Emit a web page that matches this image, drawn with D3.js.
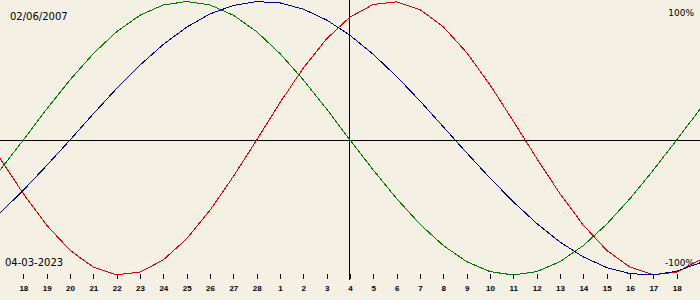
<!DOCTYPE html>
<html>
<head>
<meta charset="utf-8">
<script src="https://cdn.jsdelivr.net/npm/d3@7"></script>
<style>
  body { margin: 0; background: #f4f0e4; }
  svg { display: block; }
</style>
</head>
<body>
<svg width="700" height="300"></svg>
<script>
// day labels under the ticks (17 Feb .. 19 Mar 2023, centre = 4 Mar)
var tickLabels = ["18","19","20","21","22","23","24","25","26","27","28",
                  "1","2","3","4","5","6","7","8","9","10","11","12","13","14","15","16","17","18"];

// one value per day (-1 .. 1)
var physical = [-0.136,-0.398,-0.631,-0.817,-0.942,-0.998,-0.979,-0.888,-0.731,-0.520,-0.270,
                0,0.270,0.520,0.731,0.888,0.979,0.998,0.942,0.817,0.631,0.398,0.136,
                -0.136,-0.398,-0.631,-0.817,-0.942,-0.998,-0.979,-0.888];
var emotional = [-0.223,0,0.223,0.434,0.624,0.782,0.901,0.975,1,0.975,0.901,0.782,0.624,0.434,0.223,
                 0,-0.223,-0.434,-0.624,-0.782,-0.901,-0.975,-1,-0.975,-0.901,-0.782,-0.624,-0.434,-0.223,0,0.223];
var intellectual = [-0.541,-0.372,-0.189,0,0.189,0.372,0.541,0.690,0.815,0.910,0.972,0.999,0.990,0.945,0.866,
                    0.756,0.618,0.458,0.282,0.095,-0.095,-0.282,-0.458,-0.618,-0.756,-0.866,-0.945,-0.990,-0.999,-0.972,-0.910];

var birthDate = "02/06/2007",
    curDate = "04-03-2023";

var svg = d3.select("svg"),
    width = +svg.attr("width"),
    height = +svg.attr("height");

svg.append("rect").attr("width", width).attr("height", height).attr("fill", "#f4f0e4");

var x = d3.scaleLinear().domain([0, 30]).range([0, width]);
var y = d3.scaleLinear().domain([-1, 0, 1]).range([275, 140, 1.5]);

// centre lines
svg.append("line")
    .attr("x1", 0).attr("x2", width)
    .attr("y1", y(0) + 0.5).attr("y2", y(0) + 0.5)
    .attr("stroke", "#000").attr("shape-rendering", "crispEdges");
svg.append("line")
    .attr("x1", x(15) - 0.5).attr("x2", x(15) - 0.5)
    .attr("y1", 0).attr("y2", 280)
    .attr("stroke", "#000").attr("shape-rendering", "crispEdges");

// axis with day numbers
var axis = svg.append("g")
    .attr("transform", "translate(0,274)")
    .call(d3.axisBottom(x)
      .tickValues(d3.range(1, 30))
      .tickFormat(function(d) { return tickLabels[d - 1]; })
      .tickSize(5)
      .tickPadding(6));
axis.select(".domain").remove();
axis.selectAll("line").attr("stroke", "#000").attr("shape-rendering", "crispEdges");
axis.selectAll("text")
    .attr("fill", "#000")
    .attr("font-family", "Liberation Sans, sans-serif")
    .attr("font-size", 8)
    .attr("font-weight", "bold");

// curves
var line = d3.line()
    .x(function(d, i) { return x(i); })
    .y(function(d) { return y(d); });

[[physical, "#e00000"], [emotional, "#007800"], [intellectual, "#000090"]].forEach(function(s) {
  svg.append("path")
      .datum(s[0])
      .attr("d", line)
      .attr("fill", "none")
      .attr("stroke", s[1])
      .attr("stroke-width", 1)
      .attr("shape-rendering", "crispEdges");
});

// labels
var lab = svg.append("g").attr("font-family", "DejaVu Sans, sans-serif").attr("fill", "#000");
lab.append("text").attr("x", 10).attr("y", 20).attr("font-size", 10).text(birthDate);
lab.append("text").attr("x", 5).attr("y", 266).attr("font-size", 10).text(curDate);
lab.append("text").attr("x", 694).attr("y", 16).attr("font-size", 9).attr("text-anchor", "end").text("100%");
lab.append("text").attr("x", 694).attr("y", 266).attr("font-size", 9).attr("text-anchor", "end").text("-100%");
</script>
</body>
</html>
